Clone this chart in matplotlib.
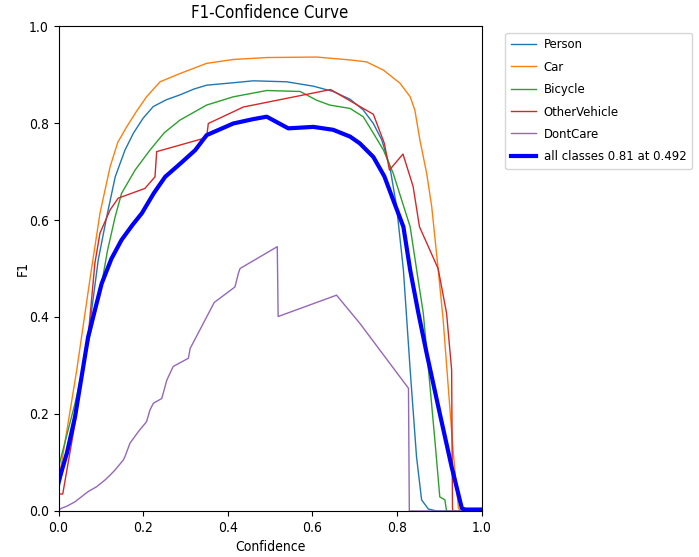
import matplotlib
matplotlib.use('Agg')
import matplotlib.pyplot as plt

# the reference is squeezed sideways, a condensed face gets closer
plt.rcParams['font.family'] = ['DejaVu Sans']
plt.rcParams['font.stretch'] = 'condensed'

# F1 vs confidence
person_x = [0.0, 0.039, 0.070, 0.094, 0.114, 0.134, 0.157, 0.177, 0.200, 0.224, 0.255, 0.287,
            0.320, 0.350, 0.413, 0.460, 0.539, 0.602, 0.649, 0.689, 0.720, 0.744, 0.764, 0.783,
            0.799, 0.815, 0.831, 0.846, 0.858, 0.874, 0.894, 1.0]
person_y = [0.043, 0.201, 0.359, 0.518, 0.607, 0.689, 0.744, 0.779, 0.810, 0.834, 0.848, 0.858,
            0.870, 0.878, 0.883, 0.887, 0.885, 0.876, 0.865, 0.849, 0.827, 0.799, 0.765, 0.710,
            0.627, 0.497, 0.291, 0.112, 0.023, 0.004, 0.0, 0.0]

car_x = [0.0, 0.043, 0.074, 0.098, 0.122, 0.140, 0.161, 0.185, 0.208, 0.240, 0.287, 0.350, 0.413,
         0.492, 0.610, 0.689, 0.728, 0.768, 0.807, 0.831, 0.842, 0.854, 0.870, 0.882, 0.897,
         0.909, 0.921, 0.933, 0.945, 0.950, 1.0]
car_y = [0.06, 0.29, 0.476, 0.614, 0.710, 0.760, 0.792, 0.825, 0.854, 0.885, 0.902, 0.923, 0.931,
         0.935, 0.936, 0.930, 0.926, 0.909, 0.882, 0.854, 0.827, 0.765, 0.696, 0.627, 0.500,
         0.394, 0.256, 0.119, 0.006, 0.0, 0.0]

bicycle_x = [0.0, 0.039, 0.070, 0.102, 0.116, 0.134, 0.149, 0.181, 0.216, 0.250, 0.287, 0.350, 0.413,
             0.492, 0.571, 0.610, 0.641, 0.689, 0.720, 0.744, 0.768, 0.791, 0.811, 0.831, 0.850,
             0.862, 0.878, 0.890, 0.901, 0.913, 0.917, 1.0]
bicycle_y = [0.09, 0.222, 0.345, 0.469, 0.538, 0.607, 0.655, 0.703, 0.744, 0.780, 0.806, 0.837, 0.854,
             0.867, 0.865, 0.847, 0.837, 0.830, 0.813, 0.779, 0.744, 0.696, 0.641, 0.586, 0.476,
             0.408, 0.256, 0.140, 0.029, 0.023, 0.0, 0.0]

other_x = [0.0, 0.010, 0.039, 0.070, 0.086, 0.098, 0.122, 0.141, 0.204, 0.228, 0.232, 0.350, 0.354,
           0.437, 0.643, 0.744, 0.770, 0.782, 0.814, 0.838, 0.853, 0.897, 0.917, 0.929, 0.931,
           0.932, 1.0]
other_y = [0.035, 0.035, 0.181, 0.359, 0.511, 0.573, 0.621, 0.645, 0.665, 0.689, 0.741, 0.770, 0.799,
           0.833, 0.869, 0.818, 0.758, 0.703, 0.736, 0.669, 0.586, 0.500, 0.408, 0.291, 0.006,
           0.0, 0.0]

dontcare_x = [0.0, 0.008, 0.020, 0.039, 0.070, 0.090, 0.110, 0.122, 0.134, 0.153, 0.157, 0.169, 0.189,
              0.208, 0.216, 0.224, 0.244, 0.256, 0.271, 0.307, 0.311, 0.338, 0.368, 0.417, 0.425,
              0.429, 0.517, 0.519, 0.657, 0.712, 0.827, 0.829, 1.0]
dontcare_y = [0.002, 0.006, 0.010, 0.019, 0.040, 0.050, 0.064, 0.074, 0.085, 0.105, 0.112, 0.140, 0.164,
              0.184, 0.208, 0.222, 0.232, 0.270, 0.298, 0.315, 0.335, 0.380, 0.430, 0.462, 0.490,
              0.500, 0.545, 0.401, 0.445, 0.387, 0.253, 0.0, 0.0]

all_x = [0.0, 0.020, 0.039, 0.070, 0.102, 0.125, 0.149, 0.175, 0.197, 0.225, 0.252, 0.290, 0.323,
         0.350, 0.413, 0.460, 0.492, 0.543, 0.602, 0.649, 0.689, 0.712, 0.744, 0.770, 0.791,
         0.815, 0.831, 0.850, 0.870, 0.901, 0.929, 0.953, 0.960, 1.0]
all_y = [0.06, 0.12, 0.194, 0.359, 0.469, 0.520, 0.559, 0.590, 0.614, 0.655, 0.689, 0.718, 0.744,
         0.775, 0.799, 0.808, 0.813, 0.789, 0.792, 0.786, 0.772, 0.758, 0.730, 0.690, 0.641,
         0.586, 0.497, 0.410, 0.325, 0.201, 0.091, 0.006, 0.003, 0.003]

fig = plt.figure(figsize=(6.99, 5.57), dpi=100)
ax = fig.add_axes([0.0837, 0.0826, 0.6054, 0.8707])

ax.plot(person_x, person_y, linewidth=1, label='Person')
ax.plot(car_x, car_y, linewidth=1, label='Car')
ax.plot(bicycle_x, bicycle_y, linewidth=1, label='Bicycle')
ax.plot(other_x, other_y, linewidth=1, label='OtherVehicle')
ax.plot(dontcare_x, dontcare_y, linewidth=1, label='DontCare')
ax.plot(all_x, all_y, linewidth=3, color='blue', label='all classes 0.81 at 0.492')

ax.set_xlim(0, 1)
ax.set_ylim(0, 1)
ax.set_xlabel('Confidence')
ax.set_ylabel('F1', labelpad=-1)
ax.set_title('F1-Confidence Curve')
ax.legend(bbox_to_anchor=(1.04, 1), loc='upper left', fontsize=9.4,
          handlelength=1.9, handletextpad=0.6, labelspacing=0.72, borderpad=0.45)

plt.savefig('out.png', dpi=100)
